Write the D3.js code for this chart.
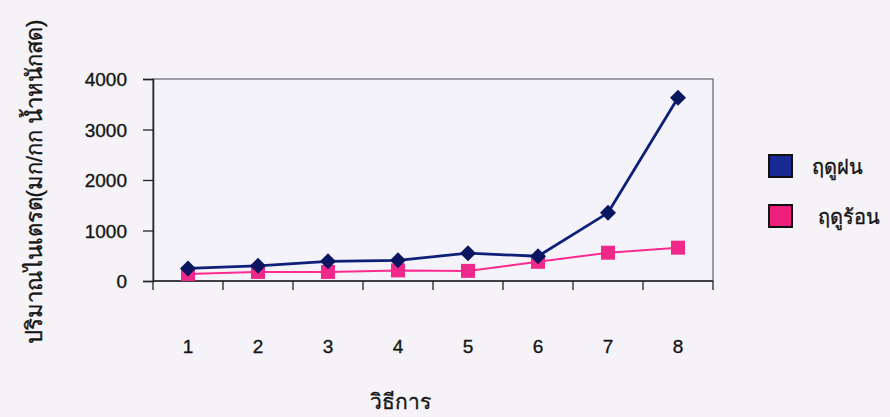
<!DOCTYPE html>
<html>
<head>
<meta charset="utf-8">
<script src="https://cdn.jsdelivr.net/npm/d3@7"></script>
<style>
html,body{margin:0;padding:0;background:#f5f3f8;}
svg{display:block;}
text{font-family:"Liberation Sans",Arial,sans-serif;fill:#151515;stroke:#151515;stroke-width:0.35px;}
</style>
</head>
<body>
<svg id="chart" width="890" height="417"></svg>
<script>
const categories = ["1","2","3","4","5","6","7","8"];
const rainySeason = [250, 300, 390, 410, 550, 490, 1350, 3630];
const hotSeason = [140, 180, 180, 210, 200, 380, 560, 660];
const yTicks = [0, 1000, 2000, 3000, 4000];
const seriesNames = ["ฤดูฝน", "ฤดูร้อน"];
const seriesColors = ["#0e1f78", "#ff2a90"];
const markerColors = ["#0a1760", "#f0288a"];
const legendFill = ["#1a2a95", "#ee1f7c"];
const yTitle = "ปริมาณไนเตรต(มก/กก น้ำหนักสด)";
const xTitle = "วิธีการ";

const svg = d3.select("#chart");
const L = 153, R = 713, T = 79, B = 281;

const x = d3.scaleBand().domain(categories).range([L, R]).padding(0);
const y = d3.scaleLinear().domain([0, 4000]).range([B, T]);

// plot frame (top & right)
svg.append("rect").attr("x", L).attr("y", T).attr("width", R - L).attr("height", B - T)
  .attr("fill", "#f4f3fa").attr("stroke", "#6d6d7a").attr("stroke-width", 1.3);

// y axis
const yAxis = svg.append("g").attr("transform", `translate(${L},0)`)
  .call(d3.axisLeft(y).tickValues(yTicks).tickSize(10).tickPadding(16).tickFormat(d3.format("d")));
yAxis.select(".domain").attr("stroke", "#222").attr("stroke-width", 1.5);
yAxis.selectAll(".tick line").attr("stroke", "#222").attr("stroke-width", 1.3);
yAxis.selectAll("text").style("font-size", "19px").attr("fill", "#151515").attr("dy", "0.36em");

// x axis line + boundary ticks
const xAxis = svg.append("g").attr("transform", `translate(0,${B})`);
xAxis.append("line").attr("x1", L).attr("x2", R).attr("y1", 0).attr("y2", 0)
  .attr("stroke", "#222").attr("stroke-width", 1.5);
const bounds = categories.map(c => x(c)).concat([R]);
xAxis.selectAll("line.tk").data(bounds).enter().append("line").attr("class", "tk")
  .attr("x1", d => d).attr("x2", d => d).attr("y1", 0).attr("y2", 9)
  .attr("stroke", "#222").attr("stroke-width", 1.3);
xAxis.selectAll("text.lbl").data(categories).enter().append("text").attr("class", "lbl")
  .attr("x", d => x(d) + x.bandwidth() / 2).attr("y", 72)
  .attr("text-anchor", "middle").style("font-size", "19px").text(d => d);

const cx = d => x(d) + x.bandwidth() / 2;
const line = d3.line().x((d, i) => cx(categories[i])).y(d => y(d));

// hot season (pink)
svg.append("path").datum(hotSeason).attr("d", line).attr("fill", "none")
  .attr("stroke", seriesColors[1]).attr("stroke-width", 2);
svg.selectAll("rect.hot").data(hotSeason).enter().append("rect").attr("class", "hot")
  .attr("x", (d, i) => cx(categories[i]) - 7).attr("y", d => y(d) - 7)
  .attr("width", 14).attr("height", 14).attr("fill", markerColors[1]);

// rainy season (blue)
svg.append("path").datum(rainySeason).attr("d", line).attr("fill", "none")
  .attr("stroke", seriesColors[0]).attr("stroke-width", 2.8);
svg.selectAll("path.rain").data(rainySeason).enter().append("path").attr("class", "rain")
  .attr("transform", (d, i) => `translate(${cx(categories[i])},${y(d)})`)
  .attr("d", "M0,-8L8,0L0,8L-8,0Z").attr("fill", markerColors[0]);

// legend
const leg = svg.append("g");
const legY = [166, 216];
const legTx = [812, 818];
seriesNames.forEach((n, i) => {
  leg.append("rect").attr("x", 769).attr("y", legY[i] - 11).attr("width", 23).attr("height", 22)
    .attr("fill", legendFill[i]).attr("stroke", "#111").attr("stroke-width", 2);
  leg.append("text").attr("x", legTx[i]).attr("y", legY[i] + 8).style("font-size", "20px").text(n);
});

// axis titles
svg.append("text").attr("transform", "translate(42,182) rotate(-90)")
  .attr("text-anchor", "middle").style("font-size", "22px").text(yTitle);
svg.append("text").attr("x", 400).attr("y", 409).attr("text-anchor", "middle")
  .style("font-size", "21px").text(xTitle);
</script>
</body>
</html>
